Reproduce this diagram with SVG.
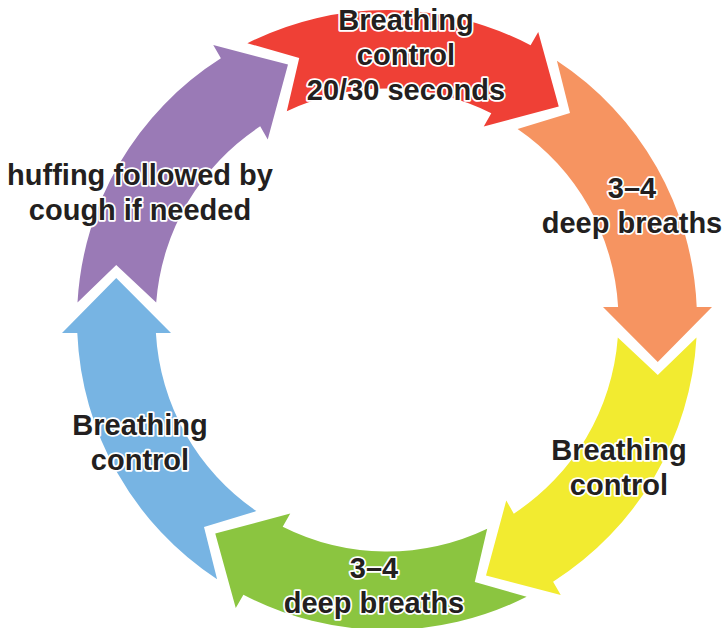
<svg xmlns="http://www.w3.org/2000/svg" width="725" height="628" viewBox="0 0 725 628">
<defs>
<style>
.lbl{font-family:"Liberation Sans",Arial,sans-serif;font-weight:bold;font-size:29px;fill:#231f20;stroke:#ffffff;stroke-width:3.5px;stroke-linejoin:round;paint-order:stroke fill;text-anchor:middle}
</style>
<path id="arrow" d="M556.9,60.7 A310,310 0 0 1 696.7,307 L712,307 L657.75,362 L603,307 L618.1,307 A231.5,231.5 0 0 0 517.6,128.9 L570,113 Z"/>
</defs>
<rect width="725" height="628" fill="#ffffff"/>
<g id="connectors"></g>
<g id="node-red"><use href="#arrow" fill="#ef4036" transform="rotate(300 387 320)"/><text class="lbl" x="406" y="30">Breathing</text><text class="lbl" x="406" y="65">control</text><text class="lbl" x="406" y="100">20/30 seconds</text></g>
<g id="node-orange"><use href="#arrow" fill="#f69461"/><text class="lbl" x="632" y="198">3–4</text><text class="lbl" x="632" y="233">deep breaths</text></g>
<g id="node-yellow"><use href="#arrow" fill="#f2eb30" transform="rotate(60 387 320)"/><text class="lbl" x="619" y="460">Breathing</text><text class="lbl" x="619" y="495">control</text></g>
<g id="node-green"><use href="#arrow" fill="#8bc540" transform="rotate(120 387 320)"/><text class="lbl" x="374" y="578">3–4</text><text class="lbl" x="374" y="613">deep breaths</text></g>
<g id="node-blue"><use href="#arrow" fill="#77b4e3" transform="rotate(180 387 320)"/><text class="lbl" x="140" y="435">Breathing</text><text class="lbl" x="140" y="470">control</text></g>
<g id="node-purple"><use href="#arrow" fill="#9a7ab6" transform="rotate(240 387 320)"/><text class="lbl" x="140" y="185">huffing followed by</text><text class="lbl" x="140" y="220">cough if needed</text></g>
</svg>
